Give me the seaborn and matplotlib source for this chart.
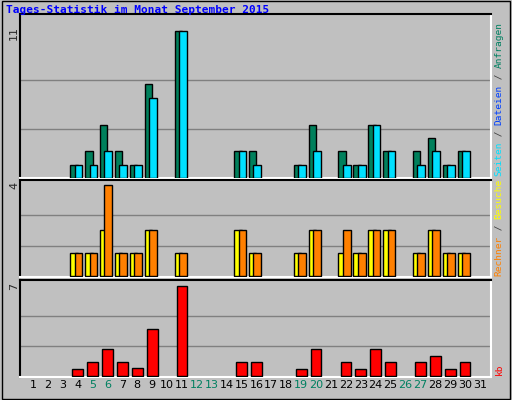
import numpy as np
import matplotlib
matplotlib.use("Agg")
import matplotlib.pyplot as plt
import seaborn as sns

sns.set_style("white")
plt.rcParams['font.family'] = ['DejaVu Sans']

days = list(range(1, 32))
weekend = [5, 6, 12, 13, 19, 20, 26, 27]
act_days = [4, 5, 6, 7, 8, 9, 11, 15, 16, 19, 20, 22, 23, 24, 25, 27, 28, 29, 30]
hits   = [1, 2, 4, 2, 1, 7, 11, 2, 2, 1, 4, 2, 1, 4, 2, 2, 3, 1, 2]
files  = [1, 1, 2, 1, 1, 6, 11, 2, 1, 1, 2, 1, 1, 4, 2, 1, 2, 1, 2]
visits = [1, 1, 2, 1, 1, 2, 1, 2, 1, 1, 2, 1, 1, 2, 2, 1, 2, 1, 1]
sites  = [1, 1, 4, 1, 1, 2, 1, 2, 1, 1, 2, 2, 1, 2, 2, 1, 2, 1, 1]
kb     = [0.56, 1.08, 2.1, 1.08, 0.64, 3.7, 7.0, 1.08, 1.08, 0.56, 2.1, 1.08, 0.56, 2.15, 1.08, 1.08, 1.6, 0.56, 1.08]

BG = "#c0c0c0"
fig = plt.figure(figsize=(5.12, 4.0), dpi=100, facecolor=BG)
W, H = 512, 400
mono = "DejaVu Sans Mono"

def mkax(top, bot):
    ax = fig.add_axes([20/W, 1-bot/H, 471/W, (bot-top)/H], facecolor=BG)
    ax.set_xlim(0.13, 31.74)
    ax.set_xticks([]); ax.set_yticks([])
    for s in ax.spines.values():
        s.set_color("white"); s.set_linewidth(1.5)
    ax.spines['left'].set_color("black"); ax.spines['top'].set_color("black")
    return ax

x = np.array(act_days, dtype=float)
ek = dict(edgecolor="black", linewidth=1, zorder=3)

ax1 = mkax(14, 178)
ax1.set_ylim(0, 12.27)
for g in [11/3, 22/3]:
    ax1.axhline(g, color="#808080", lw=1, zorder=1)
ax1.bar(x - 0.5, hits, width=0.5, align="edge", color="#00805c", **ek)
ax1.bar(x - 0.2, files, width=0.52, align="edge", color="#00e0ff", **ek)

ax2 = mkax(180, 277)
ax2.set_ylim(-0.04, 4.2)
for g in [4/3, 8/3]:
    ax2.axhline(g, color="#808080", lw=1, zorder=1)
ax2.bar(x - 0.5, visits, width=0.5, align="edge", color="#ffff00", **ek)
ax2.bar(x - 0.2, sites, width=0.52, align="edge", color="#ff8000", **ek)

ax3 = mkax(280, 377)
ax3.set_ylim(-0.05, 7.46)
for g in [7/3, 14/3]:
    ax3.axhline(g, color="#808080", lw=1, zorder=1)
ax3.bar(x - 0.36, kb, width=0.72, align="edge", color="#ff0000", **ek)

for d in days:
    ax3.text(d, -0.7, str(d), ha="center", va="center", fontsize=8,
             color="#008060" if d in weekend else "black",
             transform=ax3.transData, clip_on=False)

fig.text(6/W, 1-10/H, "Tages-Statistik im Monat September 2015", family=mono,
         fontsize=8, fontweight="bold", color="#0000ff", va="center")
for lab, yy in [("11", 33), ("4", 185), ("7", 286)]:
    fig.text(14/W, 1-yy/H, lab, rotation=90, fontsize=8, ha="center", va="center")

def vlabel(parts, ybottom, size=6.8):
    step = 0.602 * size * 100/72
    y = ybottom
    for txt, col in parts:
        fig.text(499/W, 1-y/H, txt, rotation=90, family=mono, fontsize=size,
                 color=col, ha="center", va="bottom")
        y -= step * len(txt)

vlabel([("Seiten", "#00e0ff"), (" / ", "#404040"), ("Dateien", "#0040ff"),
        (" / ", "#404040"), ("Anfragen", "#008060")], 176)
vlabel([("Rechner", "#ff8000"), (" / ", "#404040"), ("Besuche", "#ffff00")], 276)
vlabel([("kb", "#ff0000")], 375)

fig.add_artist(plt.Rectangle((0.003, 0.003), 0.994, 0.994, transform=fig.transFigure,
                             fill=False, edgecolor="black", lw=1))
fig.savefig("out.png", dpi=100, facecolor=BG)
